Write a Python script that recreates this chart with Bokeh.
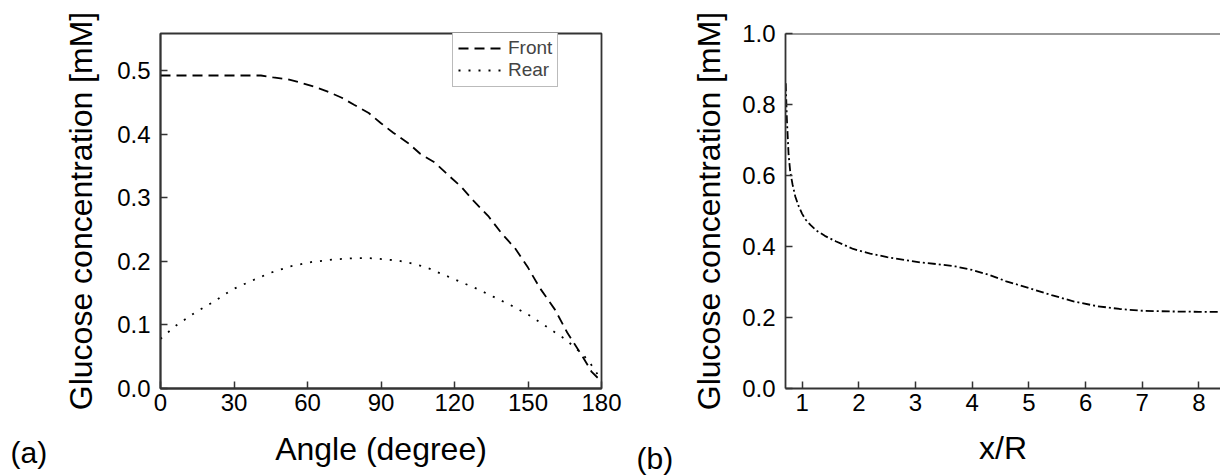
from bokeh.plotting import figure
from bokeh.models import FixedTicker, PrintfTickFormatter, Legend, LegendItem, Label, Span
from bokeh.layouts import row
from bokeh.embed import file_html
from bokeh.resources import INLINE

# ---- data (a) ----
angle_front = [0, 41, 46, 52, 57, 63, 68, 74, 79, 85, 90, 95, 101, 106, 112, 117, 123, 128, 134, 139,
               145, 150, 155, 161, 166, 172, 176, 180]
front = [0.492, 0.492, 0.489, 0.486, 0.481, 0.474, 0.467, 0.457, 0.446, 0.433, 0.417, 0.402, 0.386, 0.369,
         0.355, 0.337, 0.316, 0.294, 0.270, 0.245, 0.219, 0.190, 0.157, 0.124, 0.088, 0.052, 0.026, 0.011]
angle_rear = [0, 6, 14, 22, 29, 37, 45, 53, 62, 71, 80, 85, 89, 97, 102, 106, 110, 113, 121, 129, 136,
              144, 151, 158, 165, 172, 175, 180]
rear = [0.078, 0.098, 0.119, 0.137, 0.155, 0.169, 0.182, 0.192, 0.199, 0.203, 0.205, 0.205, 0.204, 0.201,
        0.197, 0.193, 0.188, 0.183, 0.170, 0.157, 0.144, 0.129, 0.114, 0.096, 0.078, 0.055, 0.042, 0.013]
angle_ticks = [0, 30, 60, 90, 120, 150, 180]
conc_ticks_a = [0.0, 0.1, 0.2, 0.3, 0.4, 0.5]

# ---- data (b) ----
xr = [0.71, 0.73, 0.76, 0.79, 0.83, 0.88, 0.94, 1.0, 1.06, 1.15, 1.25, 1.4, 1.6, 1.9, 2.2, 2.5, 2.8, 3.1,
      3.4, 3.7, 4.0, 4.3, 4.6, 5.0, 5.4, 5.8, 6.2, 6.6, 7.0, 7.5, 8.0, 8.4]
conc_b = [0.86, 0.76, 0.66, 0.61, 0.575, 0.54, 0.513, 0.492, 0.476, 0.46, 0.445, 0.43, 0.414, 0.393, 0.38,
          0.37, 0.362, 0.355, 0.35, 0.344, 0.334, 0.32, 0.302, 0.283, 0.263, 0.245, 0.232, 0.224, 0.219,
          0.217, 0.216, 0.216]
xr_ticks = [1, 2, 3, 4, 5, 6, 7, 8]
conc_ticks_b = [0.0, 0.2, 0.4, 0.6, 0.8, 1.0]

FONT = "Liberation Sans"
AX = "#333333"


def style_axes(p, xticks, yticks, fmt_y, x_stand, y_stand):
    for ax in p.xaxis + p.yaxis:
        ax.axis_line_color = AX
        ax.axis_line_width = 1.8
        ax.major_tick_line_color = AX
        ax.major_tick_line_width = 1.5
        ax.major_tick_in = 7
        ax.major_tick_out = 0
        ax.minor_tick_line_color = None
        ax.major_label_text_font = FONT
        ax.major_label_text_font_size = "24px"
        ax.major_label_text_color = "black"
        ax.axis_label_text_font = FONT
        ax.axis_label_text_font_size = "32px"
        ax.axis_label_text_font_style = "normal"
        ax.axis_label_text_color = "black"
    p.xaxis.ticker = FixedTicker(ticks=xticks)
    p.yaxis.ticker = FixedTicker(ticks=yticks)
    p.yaxis.formatter = PrintfTickFormatter(format=fmt_y)
    p.xaxis.major_label_standoff = 5
    p.yaxis.major_label_standoff = 10
    p.xaxis.axis_label_standoff = x_stand
    p.yaxis.axis_label_standoff = y_stand
    p.xgrid.grid_line_color = None
    p.ygrid.grid_line_color = None


# ---- panel (a) ----
p1 = figure(width=680, height=475, x_range=(0, 180), y_range=(0, 0.558),
            output_backend="svg", toolbar_location=None,
            min_border_left=160, min_border_right=79, min_border_top=25, min_border_bottom=87,
            x_axis_label="Angle (degree)", y_axis_label="Glucose concentration [mM]")
p1.outline_line_color = AX
p1.outline_line_width = 1.8
style_axes(p1, angle_ticks, conc_ticks_a, "%.1f", 17, 15)

r_front = p1.line(angle_front, front, line_color="black", line_width=1.8, line_dash="10 6")
r_rear = p1.line(angle_rear, rear, line_color="black", line_width=1.8, line_dash="2 8")

legend = Legend(items=[LegendItem(label="Front", renderers=[r_front]),
                       LegendItem(label="Rear", renderers=[r_rear])],
                location=(292, 301))
legend.label_text_font = FONT
legend.label_text_font_size = "19px"
legend.glyph_width = 48
legend.glyph_height = 20
legend.label_standoff = 2
legend.label_height = 20
legend.padding = 5
legend.spacing = 0
legend.margin = 0
legend.border_line_color = "#777777"
legend.border_line_width = 1
legend.background_fill_alpha = 1
p1.add_layout(legend)

p1.add_layout(Label(x=10, y=435, x_units="canvas", y_units="canvas", text="(a)",
                    text_baseline="top",
                    text_font=FONT, text_font_size="30px", text_color="black"), "left")
p1.add_layout(Label(x=636, y=441, x_units="canvas", y_units="canvas", text="(b)",
                    text_baseline="top",
                    text_font=FONT, text_font_size="30px", text_color="black"), "right")

# ---- panel (b) ----
p2 = figure(width=540, height=475, x_range=(0.706, 8.38), y_range=(0, 1.0),
            output_backend="svg", toolbar_location=None,
            min_border_left=105, min_border_right=0, min_border_top=33, min_border_bottom=79,
            x_axis_label="x/R", y_axis_label="Glucose concentration [mM]")
p2.outline_line_color = None
style_axes(p2, xr_ticks, conc_ticks_b, "%.1f", 16, 12)
p2.add_layout(Span(location=1.0, dimension="width", line_color=AX, line_width=1.8))
p2.line(xr, conc_b, line_color="black", line_width=1.8, line_dash="8 3 2 3")

layout = row(p1, p2)
open("out.html", "w").write(file_html(layout, INLINE))
